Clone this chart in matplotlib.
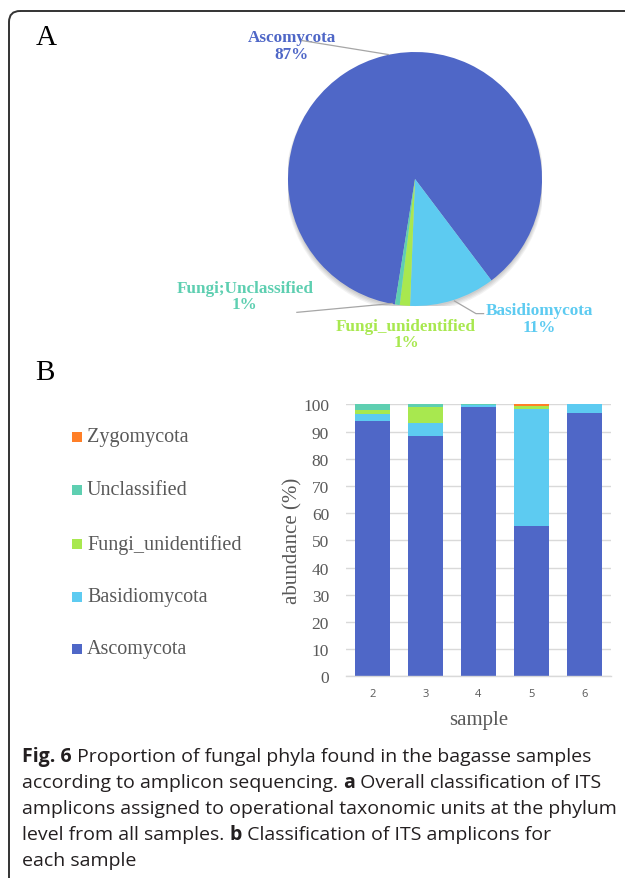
import matplotlib
matplotlib.use("Agg")
import matplotlib.pyplot as plt
from matplotlib.patches import FancyBboxPatch, Rectangle, Circle
import numpy as np

# ---- data ----
pie_labels = ["Ascomycota", "Basidiomycota", "Fungi_unidentified", "Fungi;Unclassified"]
pie_values = [87.2, 10.9, 1.3, 0.6]

samples = ["2", "3", "4", "5", "6"]
ascomycota = [94.0, 88.2, 99.1, 55.2, 96.8]
basidiomycota = [2.4, 5.1, 0.7, 43.1, 3.2]
fungi_unidentified = [1.5, 5.8, 0.0, 1.0, 0.0]
unclassified = [2.1, 0.9, 0.2, 0.2, 0.0]
zygomycota = [0.0, 0.0, 0.0, 0.5, 0.0]

series_names = ["Ascomycota", "Basidiomycota", "Fungi_unidentified", "Unclassified", "Zygomycota"]
y_ticks = [0, 10, 20, 30, 40, 50, 60, 70, 80, 90, 100]

# ---- styling ----
C_ASCO = "#4F67C7"
C_BASI = "#5DCBF1"
C_FUNG = "#A8E84F"
C_UNCL = "#5ECFB1"
C_ZYGO = "#FF7F27"
series_colors = [C_ASCO, C_BASI, C_FUNG, C_UNCL, C_ZYGO]
SERIF = "Liberation Serif"
SANS = "Open Sans"
GRAY = "#595959"

W, H = 625, 879
fig = plt.figure(figsize=(W / 100, H / 100), dpi=100)

# full-figure overlay in pixel coordinates (y downwards)
bg = fig.add_axes([0, 0, 1, 1], zorder=0)
bg.set_xlim(0, W)
bg.set_ylim(H, 0)
bg.axis("off")


def frac(x0, y0, x1, y1):
    """pixel box (top-left origin) -> figure fraction rect"""
    return [x0 / W, 1 - y1 / H, (x1 - x0) / W, (y1 - y0) / H]


# frame around the figure
bg.add_patch(FancyBboxPatch((9, 12), 700, 1000,
                            boxstyle="round,pad=0,rounding_size=11",
                            fc="none", ec="#333333", lw=1.4))

bg.text(36, 38, "A", family=SERIF, fontsize=21, va="center", ha="left", color="black")
bg.text(35, 373, "B", family=SERIF, fontsize=21, va="center", ha="left", color="black")

# ---- panel A: pie ----
cx, cy, r = 415, 180, 127
axp = fig.add_axes(frac(cx - r, cy - r, cx + r, cy + r), zorder=2)
axp.set_xlim(-1, 1)
axp.set_ylim(-1, 1)
axp.set_aspect("equal")
axp.axis("off")

# soft shadow under the pie
for k in range(4):
    axp.add_patch(Circle((0.0, -0.015 - 0.005 * k), 1.0 + 0.006 * k,
                         fc="#000000", alpha=0.05, lw=0, zorder=0))

pie_colors = [C_ASCO, C_BASI, C_FUNG, C_UNCL]
start = -53 + 360 * pie_values[0] / sum(pie_values)
axp.pie(pie_values, colors=pie_colors, startangle=start, counterclock=False,
        radius=1.0, wedgeprops=dict(lw=0), frame=False)
axp.set_xlim(-1, 1)
axp.set_ylim(-1, 1)


def pct(v):
    return f"{round(v / sum(pie_values) * 100)}%"


lab_kw = dict(family=SERIF, fontweight="bold", fontsize=12.3, ha="center",
              va="center", linespacing=1.05, clip_on=False)
axp.text(-0.97, 1.05, f"{pie_labels[0]}\n{pct(pie_values[0])}", color="#4F67C7", **lab_kw)
axp.text(0.98, -1.10, f"{pie_labels[1]}\n{pct(pie_values[1])}", color=C_BASI, **lab_kw)
axp.text(-0.07, -1.22, f"{pie_labels[2]}\n{pct(pie_values[2])}", color=C_FUNG, **lab_kw)
axp.text(-1.34, -0.92, f"{pie_labels[3]}\n{pct(pie_values[3])}", color=C_UNCL, **lab_kw)

lead = dict(color="#A6A6A6", lw=0.9, clip_on=False, zorder=3)
axp.plot([-0.89, -0.21], [1.09, 0.98], **lead)
axp.plot([-0.93, -0.18], [-1.05, -0.98], **lead)
axp.plot([0.31, 0.48, 0.54], [-0.96, -1.06, -1.06], **lead)

# ---- panel B: stacked bars ----
axb = fig.add_axes(frac(345.7, 405.3, 611, 677.4), zorder=2)
series = [ascomycota, basidiomycota, fungi_unidentified, unclassified, zygomycota]
x = np.arange(len(samples))
bottom = np.zeros(len(samples))
for vals, col in zip(series, series_colors):
    axb.bar(x, vals, bottom=bottom, width=0.667, color=col, lw=0, zorder=2)
    bottom += np.array(vals)

axb.set_xlim(-0.5, len(samples) - 0.5)
axb.set_ylim(0, 100)
axb.set_yticks(y_ticks)
axb.set_yticklabels([str(t) for t in y_ticks], family=SERIF, fontsize=12.5, color=GRAY)
axb.set_xticks(x)
axb.set_xticklabels(samples, family=SANS, fontsize=8, color=GRAY)
axb.tick_params(axis="y", length=0, pad=12)
axb.tick_params(axis="x", length=0, pad=8)
for s in ["top", "right", "left"]:
    axb.spines[s].set_visible(False)
axb.spines["bottom"].set_color("#D9D9D9")
axb.spines["bottom"].set_linewidth(1.0)
axb.grid(axis="y", color="#D9D9D9", lw=1.0, zorder=0)
axb.set_axisbelow(True)
axb.set_ylabel("abundance (%)", family=SERIF, fontsize=15, color=GRAY, labelpad=0.5)
axb.set_xlabel("sample", family=SERIF, fontsize=15, color=GRAY, labelpad=8)

# legend (top entry is the top of the stack)
leg_y = [650, 598, 545, 491, 438]
for name, col, yy in zip(series_names, series_colors, leg_y):
    bg.add_patch(Rectangle((72, yy - 5), 10, 10, fc=col, ec="none"))
    bg.text(87, yy, name, family=SERIF, fontsize=14.5, color=GRAY, va="center", ha="left")

# ---- caption ----
caption = [
    [("Fig. 6", True), (" Proportion of fungal phyla found in the bagasse samples", False)],
    [("according to amplicon sequencing. ", False), ("a", True),
     (" Overall classification of ITS", False)],
    [("amplicons assigned to operational taxonomic units at the phylum", False)],
    [("level from all samples. ", False), ("b", True), (" Classification of ITS amplicons for", False)],
    [("each sample", False)],
]
renderer = fig.canvas.get_renderer()
inv = bg.transData.inverted()
cap_y0, cap_dy = 762, 26
for i, line in enumerate(caption):
    xpos = 22
    yy = cap_y0 + i * cap_dy
    for txt, bold in line:
        t = bg.text(xpos, yy, txt, family=SANS, fontsize=14.0, color="#231F20",
                    fontweight="bold" if bold else "normal", va="baseline", ha="left")
        bb = t.get_window_extent(renderer=renderer)
        xpos = inv.transform((bb.x1, bb.y0))[0]

fig.savefig("out.png", dpi=100)
